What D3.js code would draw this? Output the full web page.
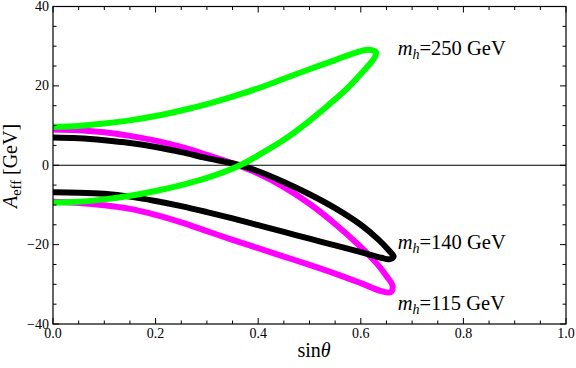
<!DOCTYPE html>
<html><head><meta charset="utf-8">
<script src="https://cdn.jsdelivr.net/npm/d3@7"></script>
<style>body{margin:0;background:#fff}svg{display:block}text{font-family:"Liberation Serif","Times New Roman",serif}</style>
</head><body><svg id="c" width="576" height="368"></svg>
<script>
// x tick values / labels
const xTicks = [0, 0.2, 0.4, 0.6, 0.8, 1.0];
const xTickLabels = ["0.0", "0.2", "0.4", "0.6", "0.8", "1.0"];
const yTicks = [-40, -20, 0, 20, 40];
const yTickLabels = ["\u221240", "\u221220", "0", "20", "40"];

// m_h = 250 GeV (green): upper branch then lower branch (sinθ, A_eff)
const green = [
  [-0.02,9.7],[0,9.7],[0.05,9.9],[0.1,10.5],[0.15,11.3],[0.2,12.4],[0.25,13.8],[0.3,15.4],[0.35,17.3],[0.4,19.4],
  [0.45,21.8],[0.5,24.2],[0.55,26.5],[0.59,28.4],[0.615,29.1],[0.63,28.4],
  [0.624,26.6],[0.6,23.0],[0.58,20.2],[0.55,16.6],[0.5,11.2],[0.45,6.4],[0.4,2.5],[0.365,0],[0.3,-3.2],
  [0.25,-5.0],[0.2,-6.5],[0.15,-7.7],[0.1,-8.6],[0.05,-9.2],[0,-9.4],[-0.02,-9.4]
];
// m_h = 140 GeV (black)
const black = [
  [-0.02,7.0],[0,7.0],[0.05,6.8],[0.1,6.3],[0.15,5.6],[0.2,4.6],[0.25,3.3],[0.3,1.8],[0.365,0],[0.4,-1.5],
  [0.45,-4.2],[0.5,-7.3],[0.55,-10.8],[0.6,-15.0],[0.635,-18.8],[0.655,-21.5],[0.664,-23.0],
  [0.655,-23.7],[0.64,-23.3],[0.6,-21.9],[0.55,-20.2],[0.5,-18.5],[0.45,-16.8],[0.4,-15.1],[0.35,-13.4],[0.3,-11.8],
  [0.25,-10.3],[0.2,-9.0],[0.15,-7.9],[0.1,-7.2],[0.05,-6.9],[0,-6.8],[-0.02,-6.8]
];
// m_h = 115 GeV (magenta)
const magenta = [
  [-0.02,9.0],[0,9.0],[0.05,8.8],[0.1,8.3],[0.15,7.4],[0.2,6.2],[0.25,4.6],[0.3,2.6],[0.36,0],[0.4,-2.1],
  [0.45,-5.5],[0.5,-9.7],[0.55,-14.8],[0.6,-20.6],[0.63,-24.6],[0.65,-27.9],[0.662,-30.4],
  [0.658,-32.0],[0.64,-31.7],[0.6,-29.7],[0.55,-27.3],[0.5,-25.1],[0.45,-23.0],[0.4,-20.9],[0.35,-18.8],[0.3,-16.6],
  [0.25,-14.4],[0.2,-12.5],[0.15,-11.0],[0.1,-10.1],[0.05,-9.5],[0,-9.2],[-0.02,-9.2]
];
const series = [
  {name:"115", data: magenta, color:"#ff00ff"},
  {name:"140", data: black, color:"#000000"},
  {name:"250", data: green, color:"#00ff00"}
];
const labels = [
  {mass:"250", x:0.672, y:27.8},
  {mass:"140", x:0.672, y:-21.2},
  {mass:"115", x:0.672, y:-36.4}
];

const svg = d3.select("#c");
const L = 53, R = 566, T = 6.5, B = 324;
const x = d3.scaleLinear().domain([0,1]).range([L,R]);
const y = d3.scaleLinear().domain([-40,40]).range([B,T]);

svg.append("defs").append("clipPath").attr("id","clip")
  .append("rect").attr("x",L).attr("y",T).attr("width",R-L).attr("height",B-T);

// zero line
svg.append("line").attr("x1",L).attr("x2",R).attr("y1",y(0)).attr("y2",y(0))
  .attr("stroke","#000").attr("stroke-width",1.2);

const line = d3.line().x(d=>x(d[0])).y(d=>y(d[1])).curve(d3.curveCatmullRom.alpha(0.5));
const g = svg.append("g").attr("clip-path","url(#clip)");
series.forEach(s=>{
  g.append("path").attr("d", line(s.data)).attr("fill","none")
    .attr("stroke", s.color).attr("stroke-width", 6)
    .attr("stroke-linejoin","round");
});

// frame
svg.append("rect").attr("x",L).attr("y",T).attr("width",R-L).attr("height",B-T)
  .attr("fill","none").attr("stroke","#000").attr("stroke-width",1.2);

// ticks (inward, all sides)
const tk = svg.append("g").attr("stroke","#000").attr("stroke-width",1);
const xMinor = d3.range(0, 1.0001, 0.05);
xMinor.forEach(v=>{
  const major = Math.abs(v*5 - Math.round(v*5)) < 1e-6;
  const len = major ? 6 : 3.5;
  tk.append("line").attr("x1",x(v)).attr("x2",x(v)).attr("y1",B).attr("y2",B-len);
  tk.append("line").attr("x1",x(v)).attr("x2",x(v)).attr("y1",T).attr("y2",T+len);
});
const yMinor = d3.range(-40, 40.001, 5);
yMinor.forEach(v=>{
  const major = v % 20 === 0;
  const len = major ? 6 : 3.5;
  tk.append("line").attr("y1",y(v)).attr("y2",y(v)).attr("x1",L).attr("x2",L+len);
  tk.append("line").attr("y1",y(v)).attr("y2",y(v)).attr("x1",R).attr("x2",R-len);
});

// tick labels
xTicks.forEach((v,i)=>{
  svg.append("text").attr("x",x(v)).attr("y",338).attr("text-anchor","middle")
    .attr("font-size",14).text(xTickLabels[i]);
});
yTicks.forEach((v,i)=>{
  svg.append("text").attr("x",49).attr("y",y(v)+4.5).attr("text-anchor","end")
    .attr("font-size",14).text(yTickLabels[i]);
});

// axis titles
svg.append("text").attr("x",314).attr("y",357).attr("text-anchor","middle").attr("font-size",20)
  .html('sin<tspan font-style="italic">θ</tspan>');
svg.append("text").attr("transform","translate(17,166) rotate(-90)").attr("text-anchor","middle").attr("font-size",20)
  .html('<tspan font-style="italic">A</tspan><tspan font-size="14.5" dy="4">eff</tspan><tspan dy="-4"> [GeV]</tspan>');

// curve labels
labels.forEach(l=>{
  svg.append("text").attr("x",x(l.x)).attr("y",y(l.y)).attr("font-size",20.5)
    .html('<tspan font-style="italic">m</tspan><tspan font-style="italic" font-size="14" dy="4">h</tspan><tspan dy="-4">=' + l.mass + ' GeV</tspan>');
});
</script>
</body></html>
